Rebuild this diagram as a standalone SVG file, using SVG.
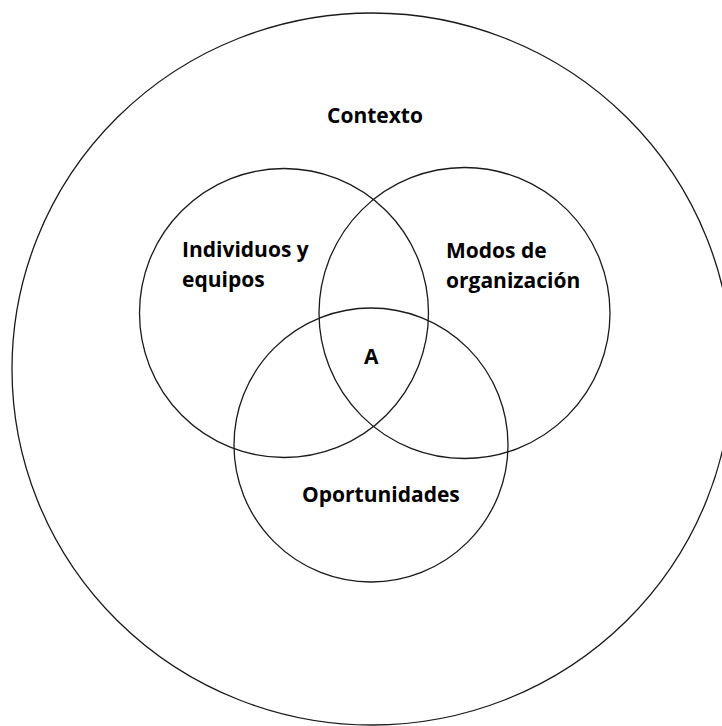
<svg xmlns="http://www.w3.org/2000/svg" width="722" height="726" viewBox="0 0 722 726">
<style>
.c{fill:none;stroke:#1a1a1a;stroke-width:1.3}
.t{font-family:"Open Sans","Liberation Sans",sans-serif;font-weight:700;font-size:21px;fill:#000}
</style>
<rect width="722" height="726" fill="#fff"/>
<g id="contexto">
<ellipse class="c" cx="372" cy="369" rx="360" ry="356"/>
<text class="t" x="327" y="123">Contexto</text>
</g>
<g id="individuos">
<circle class="c" cx="284" cy="313" r="144.5"/>
<text class="t" x="182" y="257">Individuos y</text>
<text class="t" x="182" y="287">equipos</text>
</g>
<g id="modos">
<circle class="c" cx="464.5" cy="313" r="145.5"/>
<text class="t" x="446" y="258">Modos de</text>
<text class="t" x="446" y="288">organización</text>
</g>
<g id="oportunidades">
<circle class="c" cx="371" cy="445" r="137"/>
<text class="t" x="302" y="502">Oportunidades</text>
</g>
<g id="centro">
<text class="t" x="364" y="364">A</text>
</g>
<g id="connectors"/>
</svg>
